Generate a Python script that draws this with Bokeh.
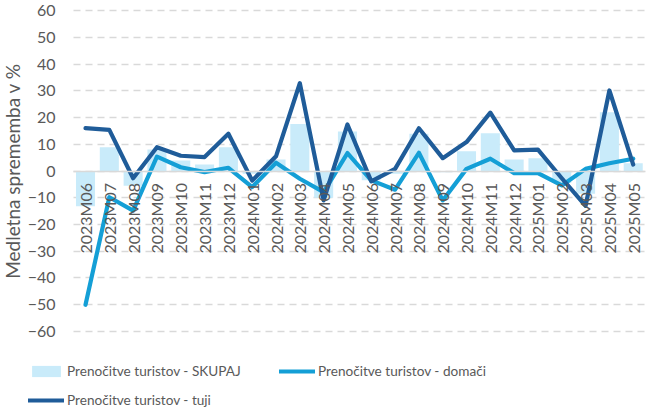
from math import pi
from bokeh.plotting import figure
from bokeh.models import ColumnDataSource, Range1d, FixedTicker, Legend, LegendItem
from bokeh.embed import file_html
from bokeh.resources import INLINE

cats = ["2023M06", "2023M07", "2023M08", "2023M09", "2023M10", "2023M11", "2023M12",
        "2024M01", "2024M02", "2024M03", "2024M04", "2024M05", "2024M06", "2024M07",
        "2024M08", "2024M09", "2024M10", "2024M11", "2024M12", "2025M01", "2025M02",
        "2025M03", "2025M04", "2025M05"]
skupaj = [-13.2, 8.9, -5.5, 8.0, 3.9, 2.4, 8.9, -1.0, 4.3, 17.6, -10.0, 14.8,
          -3.5, -1.0, 13.9, -0.5, 7.4, 14.1, 4.3, 4.8, -4.5, -8.5, 22.0, 2.9]
domaci = [-50.0, -9.8, -14.8, 5.4, 1.4, -0.4, 1.2, -6.0, 3.1, -2.9, -7.9, 6.7,
          -3.5, -7.0, 6.8, -11.0, 0.8, 4.6, -0.8, -0.8, -5.4, 0.8, 2.9, 4.6]
tuji = [16.0, 15.4, -2.7, 8.9, 5.7, 5.2, 13.9, -3.6, 5.5, 32.8, -11.0, 17.4,
        -3.9, 0.8, 16.0, 4.8, 10.8, 21.8, 7.7, 8.0, -2.7, -13.0, 30.1, 2.4]
y_ticks = [-60, -50, -40, -30, -20, -10, 0, 10, 20, 30, 40, 50, 60]
series_names = ["Prenočitve turistov - SKUPAJ", "Prenočitve turistov - domači",
                "Prenočitve turistov - tuji"]

FONT = "Lato"
TXT = "#595959"
GRID = "#d9d9d9"
C_BAR = "#c9ebfa"
C_DOM = "#149fd6"
C_TUJ = "#1f5c99"

idx = list(range(len(cats)))
first, last = idx[0] - 0.5, idx[-1] + 0.5
src = ColumnDataSource(dict(x=idx, cat=cats, skupaj=skupaj, domaci=domaci, tuji=tuji))

p = figure(width=647, height=409,
           x_range=Range1d(-3.57, 23.6),
           y_range=Range1d(-89.16, 63.74),
           output_backend="svg", toolbar_location=None,
           min_border_left=0, min_border_right=0, min_border_top=0,
           min_border_bottom=0)
p.outline_line_color = None

r_bar = p.vbar(x="x", top="skupaj", bottom=0, width=0.8, source=src,
               fill_color=C_BAR, line_color=None)
r_dom = p.line(x="x", y="domaci", source=src, line_color=C_DOM,
               line_width=4.2, line_join="round", line_cap="round")
r_tuj = p.line(x="x", y="tuji", source=src, line_color=C_TUJ,
               line_width=4.2, line_join="round", line_cap="round")

# y axis, placed at the left edge of the category area
p.yaxis.fixed_location = first
p.yaxis.bounds = (y_ticks[0], y_ticks[-1])
p.yaxis.ticker = FixedTicker(ticks=y_ticks)
p.yaxis.axis_line_color = None
p.yaxis.major_tick_line_color = None
p.yaxis.minor_tick_line_color = None
p.yaxis.major_tick_in = 0
p.yaxis.major_tick_out = 0
p.yaxis.major_label_text_font = FONT
p.yaxis.major_label_text_font_size = "16px"
p.yaxis.major_label_text_color = TXT
p.yaxis.major_label_standoff = 18
p.yaxis.axis_label = "Medletna sprememba v %"
p.yaxis.axis_label_text_font = FONT
p.yaxis.axis_label_text_font_size = "19px"
p.yaxis.axis_label_text_font_style = "normal"
p.yaxis.axis_label_text_color = TXT
p.yaxis.axis_label_standoff = 1

# x axis at zero
p.xaxis.fixed_location = 0
p.xaxis.bounds = (first, last)
p.xaxis.ticker = FixedTicker(ticks=idx)
p.xaxis.major_label_overrides = {i: c for i, c in zip(idx, cats)}
p.xaxis.axis_line_color = GRID
p.xaxis.axis_line_width = 1.5
p.xaxis.major_tick_line_color = None
p.xaxis.minor_tick_line_color = None
p.xaxis.major_tick_in = 0
p.xaxis.major_tick_out = 0
p.xaxis.major_label_orientation = pi / 2
p.xaxis.major_label_text_font = FONT
p.xaxis.major_label_text_font_size = "16px"
p.xaxis.major_label_text_color = TXT
p.xaxis.major_label_standoff = 12

p.xgrid.grid_line_color = None
p.ygrid.ticker = FixedTicker(ticks=y_ticks)
p.ygrid.cross_bounds = (first, last)
p.ygrid.grid_line_color = GRID
p.ygrid.grid_line_width = 1.5
p.ygrid.grid_line_dash = "7 5"

legend = Legend(items=[
    LegendItem(label=series_names[0], renderers=[r_bar]),
    LegendItem(label=series_names[1], renderers=[r_dom]),
    LegendItem(label=series_names[2], renderers=[r_tuj]),
], location=(28, 0), orientation="horizontal", ncols=2,
    glyph_width=36, glyph_height=14, label_standoff=3, label_width=201,
    label_height=18, spacing=11, padding=0, margin=0,
    border_line_color=None, background_fill_alpha=0,
    label_text_font=FONT, label_text_font_size="13.6px", label_text_color=TXT)
p.add_layout(legend, "center")

open("out.html", "w").write(file_html(p, INLINE))
